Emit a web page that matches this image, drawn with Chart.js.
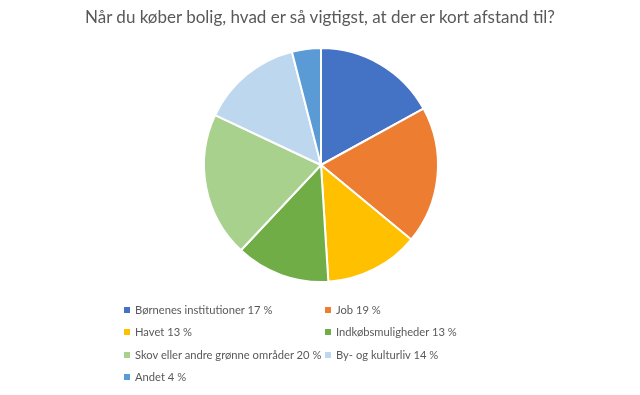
<!DOCTYPE html>
<html>
<head>
<meta charset="utf-8">
<script src="https://cdn.jsdelivr.net/npm/chart.js@4"></script>
<style>
  body { margin: 0; background: #fff; font-family: Lato, "Open Sans", sans-serif; }
  #wrap { position: relative; width: 640px; height: 395px; }
  #grafico { position: absolute; left: 0; top: 0; }
  #titulo { position: absolute; left: 0; top: 6px; width: 640px; text-align: center; font-size: 17px; color: #595959; }
  #leyenda { position: absolute; left: 124px; top: 303px; width: 420px; font-size: 11.2px; color: #595959; }
  .item { position: absolute; white-space: nowrap; }
  .item span { display: inline-block; width: 6px; height: 6px; margin-right: 5px; vertical-align: 1px; }
</style>
</head>
<body>
<div id="wrap">
  <canvas id="grafico" width="640" height="395"></canvas>
  <div id="titulo">Når du køber bolig, hvad er så vigtigst, at der er kort afstand til?</div>
  <div id="leyenda"></div>
</div>
<script>
const categorias = ['Børnenes institutioner', 'Job', 'Havet', 'Indkøbsmuligheder', 'Skov eller andre grønne områder', 'By- og kulturliv', 'Andet'];
const valores = [17, 19, 13, 13, 20, 14, 4];
const colores = ['#4472C4', '#ED7D31', '#FFC000', '#70AD47', '#A9D18E', '#BDD7EE', '#5B9BD5'];

new Chart(document.getElementById('grafico'), {
    type: 'pie',
    data: {
        labels: categorias,
        datasets: [{
            data: valores,
            backgroundColor: colores,
            borderColor: '#ffffff',
            borderWidth: 2
        }]
    },
    options: {
        responsive: false,
        animation: false,
        layout: { padding: { top: 47, bottom: 112, left: 2, right: 0 } },
        plugins: {
            legend: { display: false },
            tooltip: { enabled: false }
        }
    }
});

// leyenda en dos columnas, como la original
const leyenda = document.getElementById('leyenda');
categorias.forEach((nombre, i) => {
    let item = document.createElement('div');
    item.className = 'item';
    item.style.left = (i % 2 === 0 ? 0 : 201) + 'px';
    item.style.top = (Math.floor(i / 2) * 22.3) + 'px';
    item.innerHTML = '<span style="background:' + colores[i] + '"></span>' + nombre + ' ' + valores[i] + ' %';
    leyenda.appendChild(item);
});
</script>
</body>
</html>
